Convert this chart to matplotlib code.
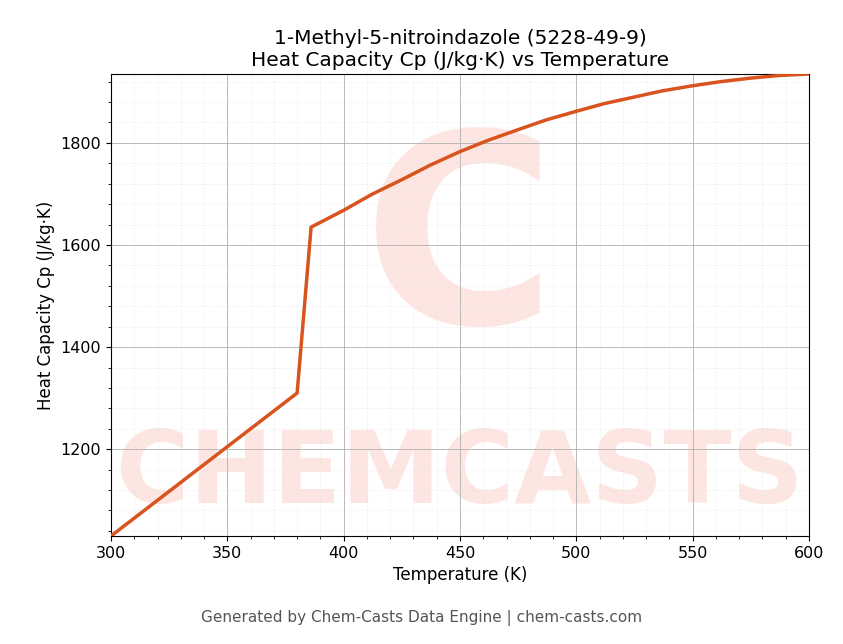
import matplotlib
matplotlib.use("Agg")
import matplotlib.pyplot as plt
from matplotlib.ticker import AutoMinorLocator

temps = [300, 340, 380, 386, 400, 412, 425, 437, 450, 462, 475, 487, 500, 512, 525, 537, 550, 562, 575, 587, 600]
cp = [1030, 1170, 1310, 1635, 1668, 1699, 1728, 1756, 1783, 1805, 1826, 1845, 1862, 1877, 1890, 1902, 1912, 1920, 1927, 1932, 1935]
xticks = [300, 350, 400, 450, 500, 550, 600]
yticks = [1200, 1400, 1600, 1800]

fig = plt.figure(figsize=(8.43, 6.44), dpi=100)
ax = fig.add_axes([111/843, 1-536/644, (809-111)/843, (536-74)/644])
ax.text(0.5, 0.62, "C", transform=ax.transAxes, fontsize=190, color="#fde6e1",
        ha="center", va="center", fontweight="bold", zorder=0, clip_on=True)
ax.text(0.5, 0.13, "CHEMCASTS", transform=ax.transAxes, fontsize=72, color="#fde6e1",
        ha="center", va="center", fontweight="bold", zorder=0, clip_on=True)
ax.plot(temps, cp, color="#d9531e", lw=2.5, zorder=3)
ax.set_xlim(300, 600)
ax.set_ylim(1030, 1935)
ax.set_xticks(xticks)
ax.set_yticks(yticks)
ax.xaxis.set_minor_locator(AutoMinorLocator(5))
ax.yaxis.set_minor_locator(AutoMinorLocator(5))
ax.grid(True, which="major", color="#b0b0b0", lw=0.6)
ax.grid(True, which="minor", color="#dddddd", lw=0.4, ls=":")
ax.tick_params(labelsize=11.5)
ax.set_xlabel("Temperature (K)", fontsize=12)
ax.set_ylabel("Heat Capacity Cp (J/kg·K)", fontsize=12)
ax.set_title("1-Methyl-5-nitroindazole (5228-49-9)\nHeat Capacity Cp (J/kg·K) vs Temperature", fontsize=14.5)
fig.text(0.5, 1-618/644, "Generated by Chem-Casts Data Engine | chem-casts.com",
         ha="center", va="center", fontsize=11, color="#555555")
fig.savefig("out.png", dpi=100)
